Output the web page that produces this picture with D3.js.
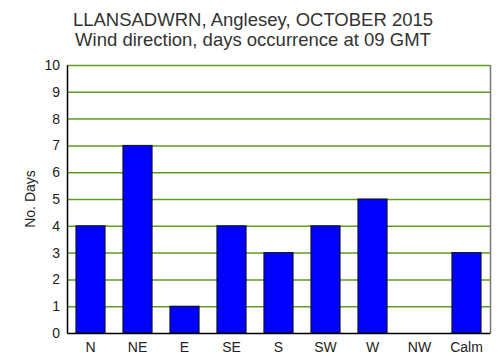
<!DOCTYPE html>
<html lang="en">
<head>
<meta charset="utf-8">
<title>Wind direction</title>
<script src="https://cdn.jsdelivr.net/npm/d3@7"></script>
<style>
  body { margin: 0; background: #fff; }
  text { font-family: "Liberation Sans", Arial, sans-serif; }
</style>
</head>
<body>
<div id="chart"></div>
<script>
// data
var directions = ["N", "NE", "E", "SE", "S", "SW", "W", "NW", "Calm"];
var days = [4, 7, 1, 4, 3, 4, 5, 0, 3];
var yTicks = [0, 1, 2, 3, 4, 5, 6, 7, 8, 9, 10];
var titleLines = ["LLANSADWRN, Anglesey, OCTOBER 2015", "Wind direction, days occurrence at 09 GMT"];

var w = 503, h = 363;
var margin = {top: 65, right: 13, bottom: 30, left: 67};

var svg = d3.select("#chart").append("svg")
  .attr("width", w)
  .attr("height", h);

var x = d3.scaleBand()
  .domain(directions)
  .range([margin.left, w - margin.right])
  .paddingInner(0.38)
  .paddingOuter(0.19);

var y = d3.scaleLinear()
  .domain([0, 10])
  .range([h - margin.bottom, margin.top]);

// gridlines
svg.append("g")
  .selectAll("line")
  .data(yTicks.slice(1))
  .enter()
  .append("line")
  .attr("x1", margin.left)
  .attr("x2", w - margin.right)
  .attr("y1", function(d) { return y(d) + 0.5; })
  .attr("y2", function(d) { return y(d) + 0.5; })
  .attr("stroke", "#5a9e1e")
  .attr("stroke-width", 1.5);

// right border
svg.append("line")
  .attr("x1", w - margin.right + 0.5)
  .attr("x2", w - margin.right + 0.5)
  .attr("y1", margin.top)
  .attr("y2", h - margin.bottom)
  .attr("stroke", "#777")
  .attr("stroke-width", 1.5);

// bars (skip zero values)
var barData = directions.map(function(d, i) { return {dir: d, n: days[i]}; })
  .filter(function(d) { return d.n > 0; });

svg.append("g")
  .selectAll("rect")
  .data(barData)
  .enter()
  .append("rect")
  .attr("x", function(d) { return x(d.dir); })
  .attr("y", function(d) { return y(d.n); })
  .attr("width", x.bandwidth())
  .attr("height", function(d) { return y(0) - y(d.n); })
  .attr("fill", "#0000ff")
  .attr("stroke", "#111")
  .attr("stroke-width", 1);

// axes
var yAxis = d3.axisLeft(y).tickValues(yTicks).tickSize(0).tickPadding(7);
var gy = svg.append("g")
  .attr("transform", "translate(" + margin.left + ",0)")
  .call(yAxis);
gy.select(".domain").attr("stroke", "#000").attr("stroke-width", 1.5);
gy.selectAll("text").attr("font-size", 14).attr("fill", "#222");

var xAxis = d3.axisBottom(x).tickSize(0).tickPadding(9);
var gx = svg.append("g")
  .attr("transform", "translate(0," + (h - margin.bottom) + ")")
  .call(xAxis);
gx.select(".domain").attr("stroke", "#000").attr("stroke-width", 1.5);
gx.selectAll("text").attr("font-size", 14).attr("fill", "#222");

// y label
svg.append("text")
  .attr("transform", "translate(35," + (margin.top + (h - margin.bottom - margin.top) / 2) + ") rotate(-90)")
  .attr("text-anchor", "middle")
  .attr("font-size", 14)
  .attr("fill", "#222")
  .text("No. Days");

// title
svg.append("g")
  .selectAll("text")
  .data(titleLines)
  .enter()
  .append("text")
  .attr("x", 253)
  .attr("y", function(d, i) { return 26 + i * 20; })
  .attr("text-anchor", "middle")
  .attr("font-size", 18.5)
  .attr("fill", "#333")
  .text(function(d) { return d; });
</script>
</body>
</html>
